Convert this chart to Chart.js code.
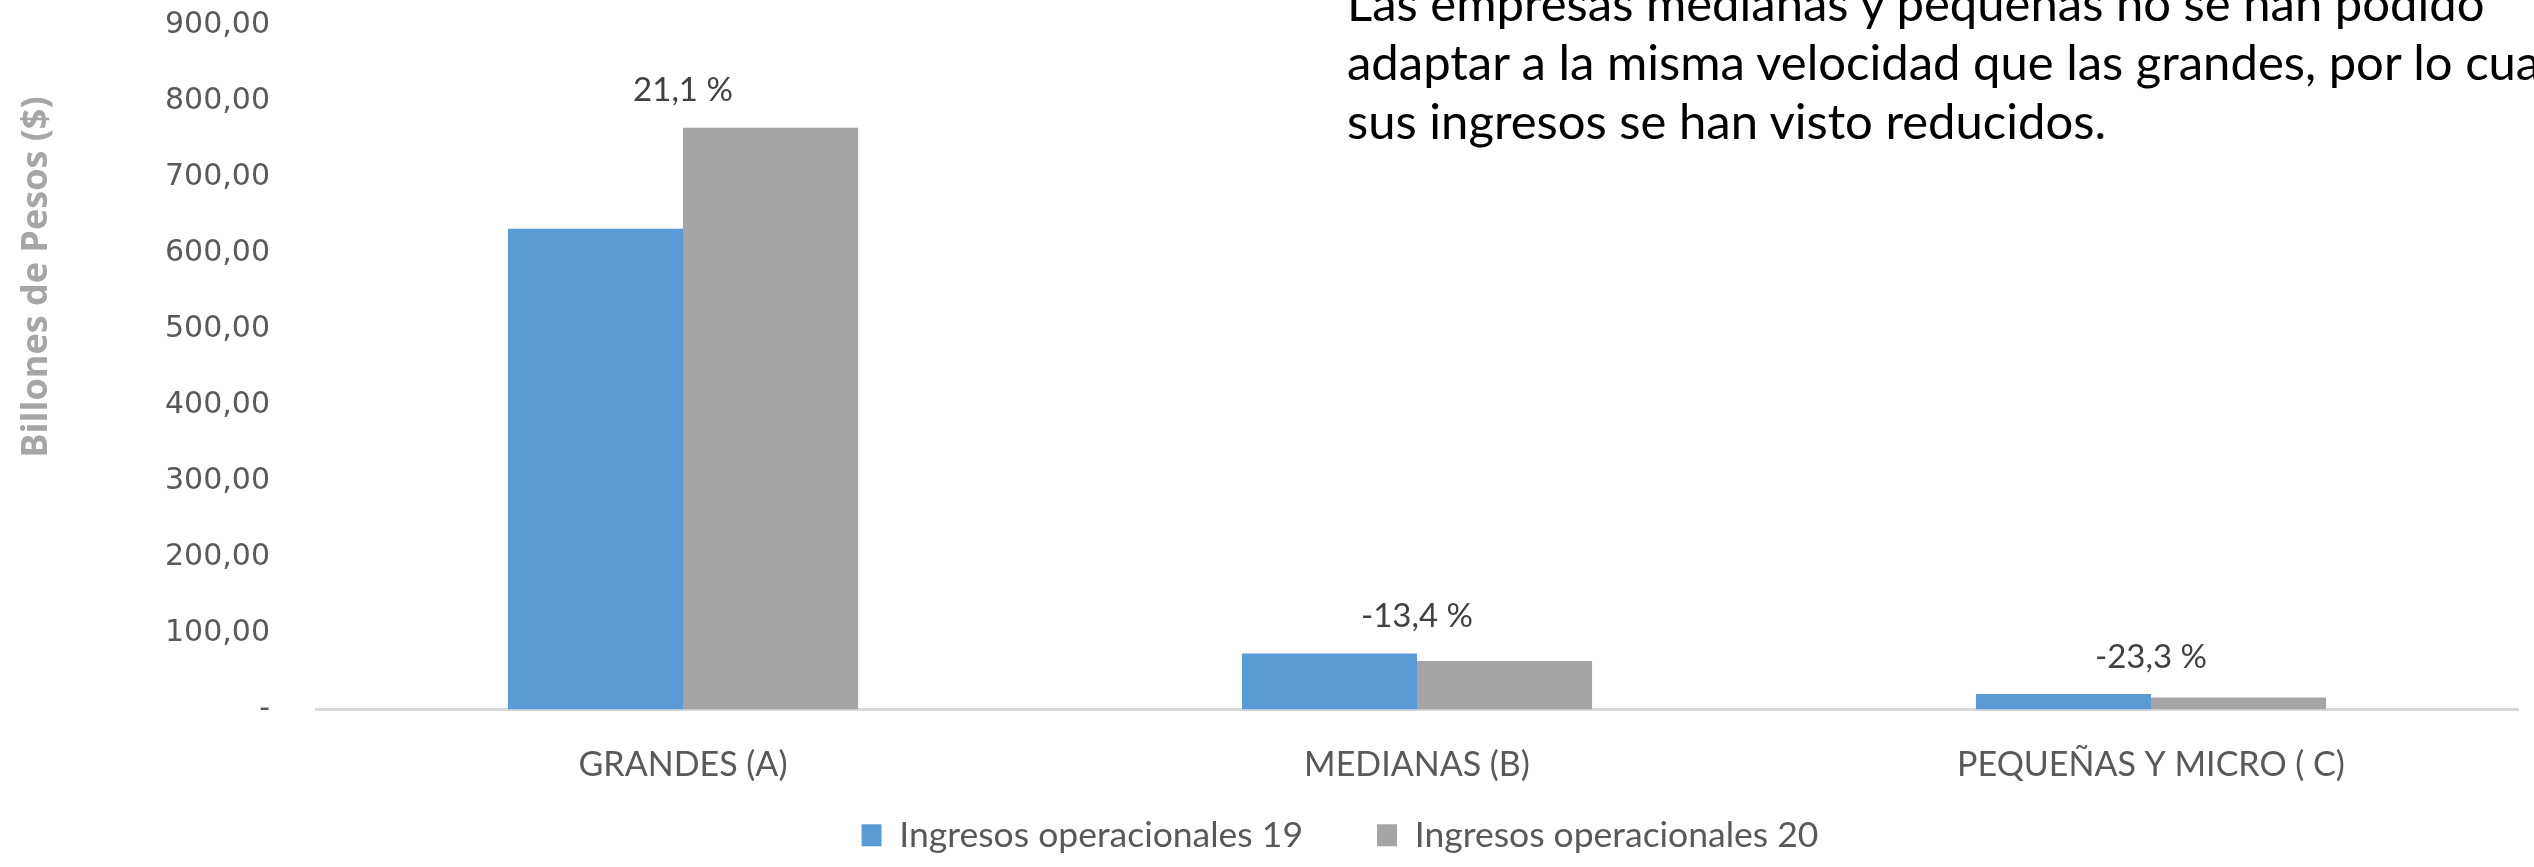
<!DOCTYPE html>
<html>
<head>
<meta charset="utf-8">
<script src="https://cdn.jsdelivr.net/npm/chart.js@4.4.1/dist/chart.umd.min.js"></script>
<style>
    html, body { margin:0; padding:0; background:#fff; overflow:hidden; }
    #marco { position:relative; width:2534px; height:867px; }
    #nota {
        position:absolute; left:1347px; top:-27px;
        font-family:Lato, sans-serif;
        font-size:49px; line-height:59px; color:#000; white-space:nowrap;
    }
</style>
</head>
<body>
<div id="marco">
    <canvas id="chartIngresos" width="2534" height="867"></canvas>
    <div id="nota">Las empresas medianas y pequeñas no se han podido<br>adaptar a la misma velocidad que las grandes, por lo cual<br>sus ingresos se han visto reducidos.</div>
</div>
<script>
//datos
const categorias = ['GRANDES (A)', 'MEDIANAS (B)', 'PEQUEÑAS Y MICRO ( C)'];
const ingresos19 = [632, 73.5, 20.5];
const ingresos20 = [765, 63.7, 15.7];
const variaciones = ['21,1 %', '-13,4 %', '-23,3 %'];
const ejeMin = 0;
const ejeMax = 900;
const ejePaso = 100;

//formato de ticks: 900,00 / - para cero
function formatoTick(v){
    return v === 0 ? '-' : v.toFixed(2).replace('.', ',');
}

//etiquetas de variacion y titulo del eje
const etiquetasPlugin = {
    id: 'etiquetas',
    afterDatasetsDraw(chart){
        const ctx = chart.ctx;
        const x = chart.scales.x, y = chart.scales.y;
        ctx.save();
        ctx.font = '33px Lato';
        ctx.fillStyle = '#404040';
        ctx.textAlign = 'center';
        ctx.textBaseline = 'middle';
        variaciones.forEach((txt, i) => {
            const tope = Math.max(ingresos19[i], ingresos20[i]);
            ctx.fillText(txt, x.getPixelForValue(i), y.getPixelForValue(tope) - 37);
        });
        // titulo eje Y
        ctx.translate(37, 277);
        ctx.rotate(-Math.PI / 2);
        ctx.font = "bold 36px 'Open Sans'";
        ctx.fillStyle = '#a6a6a6';
        ctx.fillText('Billones de Pesos ($)', 0, 0);
        ctx.restore();
    }
};

window.addEventListener('DOMContentLoaded', () => {
    const ctx = document.getElementById('chartIngresos').getContext('2d');
    new Chart(ctx, {
        type: 'bar',
        data: {
            labels: categorias,
            datasets: [
                { label: 'Ingresos operacionales 19', data: ingresos19, backgroundColor: '#5B9BD5' },
                { label: 'Ingresos operacionales 20', data: ingresos20, backgroundColor: '#A5A5A5' }
            ]
        },
        options: {
            responsive: false,
            animation: false,
            devicePixelRatio: 1,
            layout: { padding: { left: 162, right: 16, top: 25, bottom: 4 } },
            datasets: { bar: { categoryPercentage: 0.477, barPercentage: 1 } },
            scales: {
                x: {
                    grid: { display: false, drawTicks: false },
                    border: { display: true, color: '#d9d9d9', width: 3 },
                    // mirror evita el recorte de etiquetas; padding negativo las baja
                    ticks: { color: '#595959', font: { family: 'Lato', size: 34 }, mirror: true, padding: -76, maxRotation: 0, autoSkip: false },
                    afterFit(s){ s.height = 34; }
                },
                y: {
                    min: ejeMin, max: ejeMax,
                    grid: { display: false, drawTicks: true, tickLength: 46 },
                    border: { display: false },
                    ticks: {
                        stepSize: ejePaso,
                        color: '#595959',
                        font: { family: "'DejaVu Sans'", size: 30 },
                        padding: 0,
                        callback: formatoTick
                    },
                    afterFit(s){ s.width = 154; }
                }
            },
            plugins: {
                legend: {
                    position: 'bottom',
                    labels: {
                        color: '#595959',
                        font: { family: 'Lato', size: 35.5 },
                        boxWidth: 20,
                        boxHeight: 22,
                        padding: 74
                    }
                },
                tooltip: { enabled: false }
            }
        },
        plugins: [etiquetasPlugin]
    });
});
</script>
</body>
</html>
